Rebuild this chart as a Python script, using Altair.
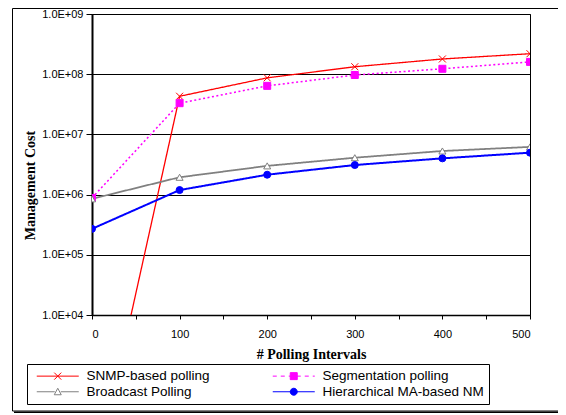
import altair as alt
import pandas as pd

x_values = [0, 100, 200, 300, 400, 500]
series_names = ["SNMP-based polling", "Segmentation polling", "Broadcast Polling", "Hierarchical MA-based NM"]
snmp = [12, 4.3e7, 8.7e7, 1.33e8, 1.79e8, 2.19e8]
segmentation = [8.8e5, 3.3e7, 6.4e7, 9.7e7, 1.23e8, 1.6e8]
broadcast = [8.5e5, 1.94e6, 3.0e6, 4.1e6, 5.3e6, 6.2e6]
hierarchical = [2.7e5, 1.19e6, 2.14e6, 3.1e6, 4.0e6, 4.97e6]
y_ticks = [1e4, 1e5, 1e6, 1e7, 1e8, 1e9]
x_ticks = [0, 50, 100, 150, 200, 250, 300, 350, 400, 450, 500]

rows = []
for name, vals in zip(series_names, [snmp, segmentation, broadcast, hierarchical]):
    for xv, yv in zip(x_values, vals):
        rows.append({"series": name, "x": xv, "y": yv})
df = pd.DataFrame(rows)

stroke_colors = ["#FF0000", "#FF00FF", "#808080", "#0000FF"]
fill_colors = ["transparent", "#FF00FF", "white", "#0000FF"]

x_enc = alt.X("x:Q", scale=alt.Scale(domain=[0, 500], nice=False),
              axis=alt.Axis(values=x_ticks, grid=False, title="# Polling Intervals",
                            labelExpr="datum.value % 100 == 0 ? datum.label : ''",
                            tickSize=4, labelPadding=9, titlePadding=8,
                            domainWidth=1.5, tickWidth=1))
y_enc = alt.Y("y:Q", scale=alt.Scale(type="log", domain=[1e4, 1e9], nice=False),
              axis=alt.Axis(values=y_ticks, grid=True, title="Management Cost",
                            labelExpr="'1.0E+0' + round(log(datum.value)/LN10)",
                            tickSize=6, labelPadding=3, domainWidth=2,
                            titleX=-62, titleY=171, titleBaseline="middle"))

base = alt.Chart(df)

lines = base.mark_line(clip=True).encode(
    x=x_enc, y=y_enc,
    stroke=alt.Stroke("series:N", scale=alt.Scale(domain=series_names, range=stroke_colors), legend=None),
    strokeDash=alt.StrokeDash("series:N", scale=alt.Scale(domain=series_names, range=[[1, 0], [2, 2.5], [1, 0], [1, 0]]), legend=None),
    strokeWidth=alt.StrokeWidth("series:N", scale=alt.Scale(domain=series_names, range=[1.3, 2, 1, 1.3]), legend=None),
)

points = base.mark_point(clip=True, size=49, strokeWidth=1, opacity=1).encode(
    x=x_enc, y=y_enc,
    shape=alt.Shape("series:N", scale=alt.Scale(domain=series_names, range=["M-1,-1L1,1M-1,1L1,-1", "square", "triangle-up", "circle"]), legend=None),
    stroke=alt.Stroke("series:N", scale=alt.Scale(domain=series_names, range=stroke_colors), legend=None),
    fill=alt.Fill("series:N", scale=alt.Scale(domain=series_names, range=fill_colors), legend=None),
)

legend_paths = [
    "M-4.2,0H4.2M-0.7,-0.7L0.7,0.7M-0.7,0.7L0.7,-0.7",
    "M-4.2,0H-3.4M-2.6,0H-1.8M-1,0H-0.2M0.6,0H1.4M2.2,0H3M3.8,0H4.2M-0.7,-0.7H0.7V0.7H-0.7Z",
    "M-4.2,0H-0.6M0.6,0H4.2M-0.7,0.6L0,-0.7L0.7,0.6Z",
    "M-4.2,0H4.2M-0.7,0A0.7,0.7 0 1,0 0.7,0A0.7,0.7 0 1,0 -0.7,0Z",
]

def leg():
    return alt.Legend(orient="none", legendX=-65, legendY=350, columns=2, direction="horizontal",
                      title=None, strokeColor="black", fillColor="white", padding=5,
                      symbolSize=100, symbolOffset=19, labelOffset=22,
                      labelFont="Liberation Sans", labelFontSize=13.5, labelColor="black",
                      columnPadding=58, rowPadding=1, symbolStrokeWidth=1, symbolOpacity=1,
                      labelLimit=300)

legend_layer = base.mark_point(size=49, opacity=0).encode(
    x=x_enc, y=y_enc,
    shape=alt.Shape("series:N", scale=alt.Scale(domain=series_names, range=legend_paths), legend=leg()),
    stroke=alt.Stroke("series:N", scale=alt.Scale(domain=series_names, range=stroke_colors), legend=leg()),
    fill=alt.Fill("series:N", scale=alt.Scale(domain=series_names, range=fill_colors), legend=leg()),
)

frame_df = pd.DataFrame({"a": [0]})
frame = alt.Chart(frame_df).mark_rect(fill="transparent", stroke="black", strokeWidth=1).encode(
    x=alt.value(-79.5), x2=alt.value(480), y=alt.value(-5.5), y2=alt.value(397)
)
shadow = alt.Chart(frame_df).mark_rule(stroke="black", strokeWidth=2).encode(
    x=alt.value(-78), x2=alt.value(480), y=alt.value(398.5)
)

chart = alt.layer(frame, shadow, lines, points, legend_layer).resolve_scale(
    shape="independent", stroke="independent", fill="independent"
).properties(
    width=438, height=301, autosize=alt.AutoSizeParams(type="none"),
    padding={"left": 84, "top": 6, "right": 28, "bottom": 98},
    background="white",
).configure_view(
    stroke="black", strokeWidth=1
).configure_axis(
    domainColor="black", tickColor="black", gridColor="black", gridWidth=1,
    labelFont="Liberation Sans", labelFontSize=11, labelColor="black",
    titleFont="Liberation Serif", titleFontSize=14, titleFontWeight="bold", titleColor="black",
)

chart.save("out.html", embed_options={"renderer": "svg", "actions": False})
